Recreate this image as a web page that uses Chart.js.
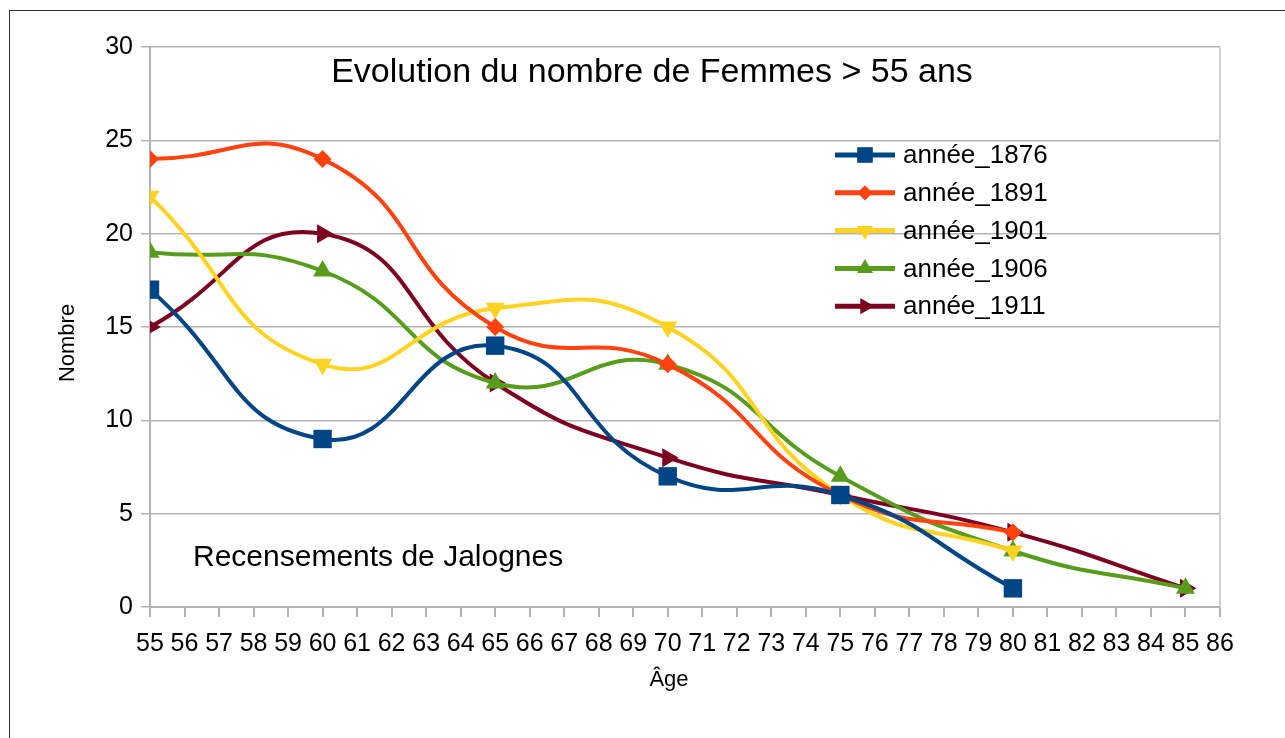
<!DOCTYPE html>
<html>
<head>
<meta charset="utf-8">
<script src="https://cdn.jsdelivr.net/npm/chart.js@4/dist/chart.umd.min.js"></script>
<style>
  body { margin: 0; background: #fff; }
  #wrap { position: relative; width: 1285px; height: 738px; overflow: hidden; }
  #frame { position: absolute; left: 9px; top: 10px; width: 1300px; height: 760px; border: 1px solid #333; box-sizing: border-box; }
  canvas { position: absolute; left: 0; top: 0; }
</style>
</head>
<body>
<div id="wrap">
  <div id="frame"></div>
  <canvas id="chart" width="1285" height="738"></canvas>
</div>
<script>
// Ages (x) et valeurs par recensement
const ages = [55, 60, 65, 70, 75, 80, 85];
const annee1876 = [17, 9, 14, 7, 6, 1, null];
const annee1891 = [24, 24, 15, 13, 6, 4, null];
const annee1901 = [22, 13, 16, 15, 6, 3, null];
const annee1906 = [19, 18, 12, 13, 7, 3, 1];
const annee1911 = [15, 20, 12, 8, 6, 4, 1];

const seriesLabels = ['année_1876', 'année_1891', 'année_1901', 'année_1906', 'année_1911'];
const seriesColors = ['#004586', '#ff420e', '#ffd320', '#579d1c', '#7e0021'];

const FONT = '"Liberation Sans", Arial, sans-serif';

function toPoints(values) {
    return ages.map((a, i) => ({ x: a, y: values[i] }));
}

function makeDataset(idx, values, style, radius, rotation) {
    return {
        label: seriesLabels[idx],
        data: toPoints(values),
        borderColor: seriesColors[idx],
        backgroundColor: seriesColors[idx],
        borderWidth: 4,
        tension: 0.5,
        pointStyle: style,
        pointRadius: radius,
        pointRotation: rotation,
        pointBorderWidth: 0,
        pointHoverRadius: radius,
        spanGaps: false
    };
}

// Légende, titres et texte dans la zone du graphique
const extras = {
    id: 'extras',
    afterDatasetsDraw(chart) {
        const ctx = chart.ctx;
        const area = chart.chartArea;
        ctx.save();
        // bord droit de la zone
        ctx.strokeStyle = '#cfcfcf';
        ctx.lineWidth = 2;
        ctx.beginPath();
        ctx.moveTo(area.right, area.top);
        ctx.lineTo(area.right, area.bottom);
        ctx.stroke();

        ctx.fillStyle = '#000';
        ctx.textBaseline = 'middle';
        ctx.textAlign = 'center';
        ctx.font = '34px ' + FONT;
        ctx.fillText('Evolution du nombre de Femmes > 55 ans', 652, 73);

        // titres des axes
        ctx.font = '22px ' + FONT;
        ctx.fillText('Âge', 669, 680);
        ctx.save();
        ctx.translate(68, 343);
        ctx.rotate(-Math.PI / 2);
        ctx.fillText('Nombre', 0, 0);
        ctx.restore();

        ctx.textAlign = 'left';
        ctx.font = '30px ' + FONT;
        ctx.fillText('Recensements de Jalognes', 193, 558);

        // légende
        ctx.font = '26px ' + FONT;
        chart.data.datasets.forEach((ds, i) => {
            const y = 155 + i * 37.8;
            ctx.strokeStyle = ds.borderColor;
            ctx.lineWidth = 5;
            ctx.beginPath();
            ctx.moveTo(835, y);
            ctx.lineTo(895, y);
            ctx.stroke();
            ctx.fillStyle = ds.backgroundColor;
            Chart.helpers.drawPoint(ctx, {
                pointStyle: ds.pointStyle,
                radius: ds.pointRadius * 0.85,
                rotation: ds.pointRotation,
                borderWidth: 0
            }, 865, y);
            ctx.fillStyle = '#000';
            ctx.fillText(ds.label, 903, y + 1);
        });
        ctx.restore();
    }
};

new Chart(document.getElementById('chart'), {
    type: 'line',
    data: {
        datasets: [
            makeDataset(0, annee1876, 'rect', 13, 0),
            makeDataset(1, annee1891, 'rectRot', 9, 0),
            makeDataset(2, annee1901, 'triangle', 11, 180),
            makeDataset(3, annee1906, 'triangle', 11, 0),
            makeDataset(4, annee1911, 'triangle', 11, 90)
        ]
    },
    options: {
        responsive: false,
        animation: false,
        layout: { padding: { top: 47, right: 65, left: 55, bottom: 44 } },
        plugins: {
            legend: { display: false },
            title: { display: false },
            tooltip: { enabled: false }
        },
        scales: {
            x: {
                type: 'linear',
                min: 55,
                max: 86,
                afterFit: s => { s.height = 87; },
                ticks: {
                    stepSize: 1,
                    autoSkip: false,
                    maxRotation: 0,
                    color: '#000',
                    padding: 12,
                    font: { family: FONT, size: 25 }
                },
                grid: {
                    drawOnChartArea: false,
                    drawTicks: true,
                    tickLength: 10,
                    color: '#b3b3b3',
                    lineWidth: 2
                },
                border: { color: '#b3b3b3', width: 2 }
            },
            y: {
                min: 0,
                max: 30,
                afterFit: s => { s.width = 95; },
                ticks: {
                    stepSize: 5,
                    color: '#000',
                    padding: 8,
                    font: { family: FONT, size: 25 }
                },
                grid: {
                    color: '#b3b3b3',
                    lineWidth: 1.5,
                    tickLength: 9
                },
                border: { color: '#b3b3b3', width: 2 }
            }
        }
    },
    plugins: [extras]
});
</script>
</body>
</html>
